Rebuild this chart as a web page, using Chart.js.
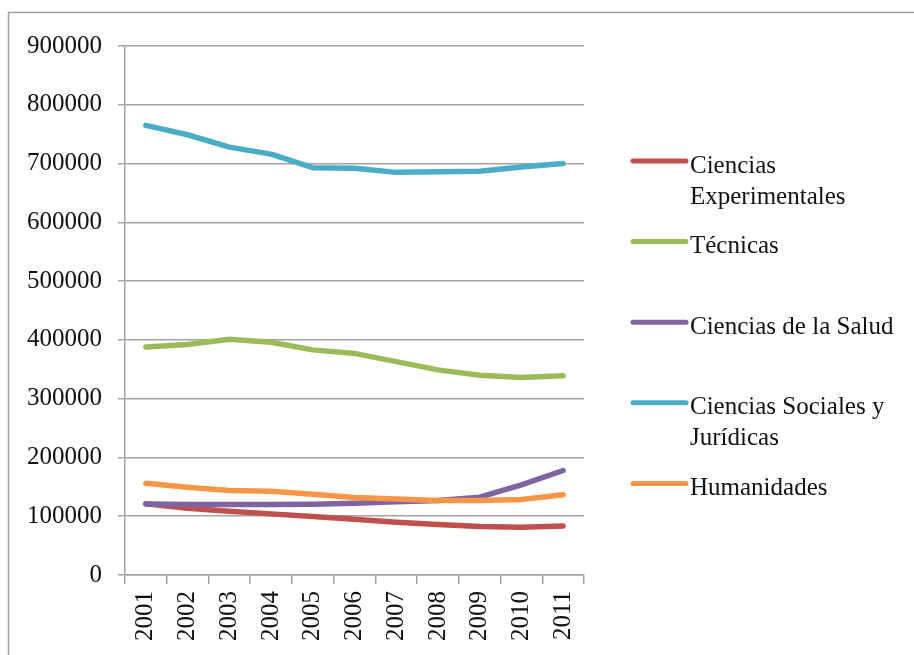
<!DOCTYPE html>
<html>
<head>
<meta charset="utf-8">
<script src="https://cdn.jsdelivr.net/npm/chart.js@4/dist/chart.umd.min.js"></script>
<style>
  html, body { margin: 0; padding: 0; background: #fff; }
  #wrap { width: 914px; height: 655px; position: relative; }
</style>
</head>
<body>
<div id="wrap"><canvas id="c"></canvas></div>
<script>
// Academic years on the category axis
const years = ['2001', '2002', '2003', '2004', '2005', '2006', '2007', '2008', '2009', '2010', '2011'];

// Value-axis ticks
const yTicks = [0, 100000, 200000, 300000, 400000, 500000, 600000, 700000, 800000, 900000];

// Students per branch of knowledge
const seriesNames = [
  'Ciencias Experimentales',
  'Técnicas',
  'Ciencias de la Salud',
  'Ciencias Sociales y Jurídicas',
  'Humanidades'
];
const experimentales = [121000, 113600, 108500, 104000, 99400, 94900, 89800, 85800, 82400, 81300, 83500];
const tecnicas       = [388000, 392000, 401000, 396000, 383000, 377000, 363000, 349000, 340000, 336000, 339000];
const salud          = [121000, 120000, 120000, 120000, 120500, 122000, 124500, 126700, 132400, 153400, 177800];
const sociales       = [765000, 749000, 728000, 716000, 693000, 692000, 685000, 686000, 687000, 694000, 700000];
const humanidades    = [156000, 149400, 143700, 142600, 137500, 131800, 129500, 126700, 126700, 128400, 136400];

const seriesValues = [experimentales, tecnicas, salud, sociales, humanidades];
const seriesColors = ['#C0504D', '#9BBB59', '#8064A2', '#4BACC6', '#F79646'];

const FONT = '"Liberation Serif", "Times New Roman", serif';
const GRID = '#A3A3A3';

// Frame and white background behind the chart
const framePlugin = {
  id: 'frame',
  beforeDraw(chart) {
    const ctx = chart.ctx;
    ctx.save();
    ctx.fillStyle = '#fff';
    ctx.fillRect(0, 0, chart.width, chart.height);
    ctx.strokeStyle = '#A0A0A0';
    ctx.lineWidth = 1.5;
    ctx.beginPath();
    ctx.moveTo(8.5, chart.height);
    ctx.lineTo(8.5, 12.5);
    ctx.lineTo(chart.width, 12.5);
    ctx.stroke();
    ctx.restore();
  }
};

// Legend on the right, with wrapped labels
const sideLegend = {
  id: 'sideLegend',
  afterDraw(chart) {
    const ctx = chart.ctx;
    const startY = 161, step = 80.6, x0 = 633, x1 = 686, tx = 690, maxW = 210, lineH = 31;
    ctx.save();
    ctx.font = '25px ' + FONT;
    ctx.textBaseline = 'middle';
    ctx.fillStyle = '#111';
    chart.data.datasets.forEach((ds, i) => {
      const y = startY + i * step;
      ctx.strokeStyle = ds.borderColor;
      ctx.lineWidth = 5;
      ctx.lineCap = 'round';
      ctx.beginPath();
      ctx.moveTo(x0, y);
      ctx.lineTo(x1, y);
      ctx.stroke();
      // wrap words into lines
      const words = ds.label.split(' ');
      const lines = [];
      let cur = '';
      words.forEach(w => {
        const t = cur ? cur + ' ' + w : w;
        if (ctx.measureText(t).width > maxW && cur) { lines.push(cur); cur = w; }
        else cur = t;
      });
      if (cur) lines.push(cur);
      lines.forEach((ln, k) => ctx.fillText(ln, tx, y + 5 + k * lineH));
    });
    ctx.restore();
  }
};

new Chart(document.getElementById('c'), {
  type: 'line',
  data: {
    labels: years,
    datasets: seriesNames.map((name, i) => ({
      label: name,
      data: seriesValues[i],
      borderColor: seriesColors[i],
      backgroundColor: seriesColors[i],
      borderWidth: 5.5,
      pointRadius: 0,
      tension: 0,
      borderCapStyle: 'round',
      borderJoinStyle: 'round',
      order: seriesNames.length - i
    }))
  },
  options: {
    responsive: true,
    maintainAspectRatio: false,
    animation: false,
    layout: { padding: { left: 0, top: 46, right: 330, bottom: 0 } },
    plugins: { legend: { display: false }, tooltip: { enabled: false } },
    scales: {
      x: {
        offset: true,
        grid: { drawOnChartArea: false, drawTicks: true, tickLength: 9, color: GRID, lineWidth: 1.5, offset: true },
        border: { color: GRID, width: 1.5 },
        ticks: {
          font: { family: FONT, size: 25 },
          color: '#111',
          minRotation: 90,
          maxRotation: 90,
          padding: 7,
          autoSkip: false
        },
        afterFit(scale) { scale.height = 80; }
      },
      y: {
        min: 0,
        max: 900000,
        grid: { color: GRID, lineWidth: 1.5, tickLength: 7 },
        border: { color: GRID, width: 1.5 },
        afterBuildTicks(scale) { scale.ticks = yTicks.map(v => ({ value: v })); },
        ticks: {
          font: { family: FONT, size: 25 },
          color: '#111',
          padding: 16,
          callback: v => String(v)
        },
        afterFit(scale) { scale.width = 125; }
      }
    }
  },
  plugins: [framePlugin, sideLegend]
});
</script>
</body>
</html>
